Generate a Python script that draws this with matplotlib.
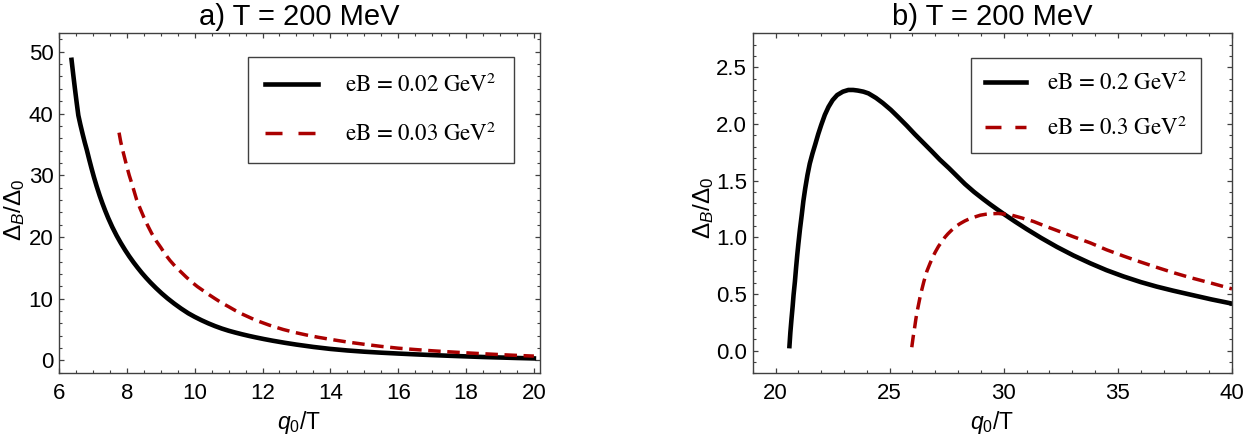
import numpy as np
import matplotlib
matplotlib.use('Agg')
import matplotlib.pyplot as plt
from matplotlib.ticker import MultipleLocator, FormatStrFormatter

# ---- data ----
# panel a): T = 200 MeV
a_x_02 = [6.37, 6.42, 6.47, 6.52, 6.57, 6.63, 6.7, 6.76, 6.82, 6.89, 6.96, 7.03, 7.11, 7.2,
          7.28, 7.36, 7.45, 7.57, 7.7, 7.82, 7.95, 8.07, 8.2, 8.32, 8.44, 8.57, 8.7, 8.86,
          9.03, 9.2, 9.4, 9.6, 9.81, 10.0, 10.2, 10.4, 10.6, 10.8, 11.0, 11.2, 11.4, 11.6,
          11.8, 12.05, 12.3, 12.65, 13.0, 13.5, 14.0, 14.5, 15.0, 15.5, 16.0, 16.5, 17.0,
          17.5, 18.0, 18.5, 19.0, 19.5, 20.0]
a_y_02 = [48.7, 46.3, 44.0, 41.8, 39.7, 38.2, 36.6, 35.3, 34.1, 32.56, 31.09, 29.69, 28.21, 26.68,
          25.44, 24.28, 23.07, 21.61, 20.2, 19.03, 17.86, 16.86, 15.86, 15.0, 14.18, 13.36, 12.59, 11.71,
          10.84, 10.04, 9.18, 8.39, 7.63, 7.05, 6.5, 6.0, 5.55, 5.15, 4.8, 4.5, 4.22, 3.96,
          3.72, 3.44, 3.18, 2.85, 2.55, 2.17, 1.85, 1.6, 1.4, 1.24, 1.1, 0.97, 0.85,
          0.74, 0.64, 0.54, 0.46, 0.38, 0.31]
a_x_03 = [7.77, 7.82, 7.88, 7.94, 8.0, 8.07, 8.15, 8.22, 8.29, 8.4, 8.5, 8.61, 8.73, 8.86,
          9.0, 9.13, 9.27, 9.43, 9.6, 9.75, 9.91, 10.08, 10.25, 10.42, 10.6, 10.8, 11.0,
          11.19, 11.38, 11.6, 11.8, 12.0, 12.2, 12.4, 12.61, 12.95, 13.3, 13.65, 14.0, 14.5,
          15.0, 15.5, 16.0, 16.5, 17.0, 17.5, 18.0, 18.5, 19.0, 19.5, 20.0]
a_y_03 = [36.9, 35.4, 34.0, 32.7, 31.4, 30.0, 28.6, 27.3, 26.0, 24.5, 23.2, 21.9, 20.6, 19.4,
          18.3, 17.2, 16.2, 15.2, 14.3, 13.5, 12.7, 11.95, 11.3, 10.65, 10.0, 9.3, 8.7,
          8.1, 7.55, 7.0, 6.5, 6.1, 5.7, 5.35, 5.0, 4.52, 4.1, 3.73, 3.4, 2.97,
          2.6, 2.26, 1.97, 1.75, 1.55, 1.38, 1.22, 1.07, 0.93, 0.8, 0.69]

# panel b): T = 200 MeV
b_x_2 = [20.61, 20.65, 20.7, 20.75, 20.79, 20.85, 20.9, 20.95, 21.0, 21.07, 21.15, 21.22,
         21.3, 21.4, 21.5, 21.62, 21.74, 21.87, 22.0, 22.16, 22.32, 22.5, 22.7, 22.95, 23.19,
         23.4, 23.6, 23.85, 24.07, 24.4, 24.7, 25.05, 25.38, 25.75, 26.1, 26.47, 26.84, 27.2,
         27.6, 27.95, 28.3, 28.7, 29.1, 29.41, 29.75, 30.05, 30.5, 31.0, 31.65, 32.33, 33.05,
         33.8, 34.5, 35.24, 36.0, 36.7, 37.4, 38.16, 39.1, 40.0]
b_y_2 = [0.04, 0.16, 0.28, 0.39, 0.49, 0.61, 0.73, 0.84, 0.94, 1.07, 1.2, 1.32,
         1.43, 1.55, 1.65, 1.74, 1.82, 1.91, 1.99, 2.08, 2.15, 2.21, 2.255, 2.285, 2.30,
         2.30, 2.295, 2.285, 2.27, 2.23, 2.185, 2.125, 2.06, 1.985, 1.91, 1.835, 1.76, 1.685,
         1.61, 1.54, 1.47, 1.40, 1.337, 1.29, 1.241, 1.199, 1.138, 1.073, 0.993, 0.915, 0.84,
         0.77, 0.71, 0.655, 0.605, 0.565, 0.53, 0.495, 0.452, 0.415]
b_x_3 = [25.97, 26.03, 26.1, 26.15, 26.2, 26.27, 26.33, 26.4, 26.5, 26.63, 26.77, 26.9, 27.0,
         27.14, 27.28, 27.42, 27.55, 27.7, 27.86, 28.08, 28.3, 28.52, 28.74, 28.97, 29.2,
         29.48, 29.76, 30.03, 30.3, 30.8, 31.3, 31.8, 32.33, 33.05, 33.8, 34.5, 35.24, 35.95,
         36.7, 37.4, 38.16, 39.1, 40.0]
b_y_3 = [0.03, 0.12, 0.21, 0.28, 0.34, 0.41, 0.47, 0.53, 0.61, 0.7, 0.77, 0.83, 0.87,
         0.92, 0.96, 1.0, 1.03, 1.06, 1.09, 1.12, 1.145, 1.165, 1.18, 1.195, 1.203,
         1.208, 1.21, 1.205, 1.198, 1.17, 1.14, 1.1, 1.06, 1.005, 0.95, 0.89, 0.835, 0.785,
         0.735, 0.69, 0.645, 0.595, 0.545]

titles = ['a) T = 200 MeV', 'b) T = 200 MeV']
labels_a = ['eB = 0.02 GeV$^2$', 'eB = 0.03 GeV$^2$']
labels_b = ['eB = 0.2 GeV$^2$', 'eB = 0.3 GeV$^2$']

plt.rcParams['font.family'] = 'Liberation Sans'
plt.rcParams['mathtext.fontset'] = 'custom'
plt.rcParams['mathtext.rm'] = 'Liberation Sans'
plt.rcParams['mathtext.it'] = 'Liberation Sans:italic'
plt.rcParams['mathtext.bf'] = 'Liberation Sans:bold'

W, H = 1256, 445
red = '#aa0000'
frame = '0.25'


def style_axes(ax, title):
    for s in ax.spines.values():
        s.set_color(frame)
        s.set_linewidth(1.0)
    ax.tick_params(which='both', direction='in', top=True, right=True, color=frame,
                   labelsize=16, labelcolor='black')
    ax.tick_params(which='major', length=3.5, width=0.9)
    ax.tick_params(which='minor', length=2.0, width=0.8)
    ax.tick_params(axis='x', pad=7)
    ax.tick_params(axis='y', pad=4)
    ax.set_title(title, fontsize=21, pad=6)
    ax.set_xlabel('$q_0$/T', fontsize=16.5)
    ax.set_ylabel(r'$\Delta_B/\Delta_0$', fontsize=17.5)


def add_legend(ax, anchor, hl, htp, spacing, bpad, handle_dash):
    leg = ax.legend(loc='upper right', bbox_to_anchor=anchor, borderaxespad=0,
                    prop={'family': 'STIXGeneral', 'size': 16.5}, handlelength=hl,
                    handletextpad=htp, labelspacing=spacing, borderpad=bpad,
                    fancybox=False, edgecolor=frame, framealpha=1)
    leg.get_frame().set_linewidth(1.0)
    for t in leg.get_texts():
        t.set_math_fontfamily('stix')
    # the legend sample shows two long dashes
    leg.get_lines()[1].set_dashes(handle_dash)
    return leg


fig = plt.figure(figsize=(W / 100, H / 100), dpi=100)
ax1 = fig.add_axes([59 / W, 1 - 373.3 / H, (540 - 59) / W, 340 / H])
ax2 = fig.add_axes([752.7 / W, 1 - 373.3 / H, (1232 - 752.7) / W, 340 / H])

# panel a
ax1.plot(a_x_02, a_y_02, color='black', lw=3.3, label=labels_a[0])
ax1.plot(a_x_03, a_y_03, color=red, lw=2.5, dashes=(3.6, 1.9), label=labels_a[1])
ax1.set_xlim(6, 20.18)
ax1.set_ylim(-2.1, 53)
ax1.xaxis.set_major_locator(MultipleLocator(2))
ax1.xaxis.set_minor_locator(MultipleLocator(0.5))
ax1.yaxis.set_major_locator(MultipleLocator(10))
ax1.yaxis.set_minor_locator(MultipleLocator(2))
style_axes(ax1, titles[0])
ax1.xaxis.set_label_coords(0.5, -0.105)
ax1.yaxis.set_label_coords(-0.067, 0.48)
add_legend(ax1, (0.946, 0.931), 2.3, 1.2, 1.1, 0.75, (4.9, 4.6))

# panel b
ax2.plot(b_x_2, b_y_2, color='black', lw=3.3, label=labels_b[0])
ax2.plot(b_x_3, b_y_3, color=red, lw=2.5, dashes=(3.6, 1.9), label=labels_b[1])
ax2.set_xlim(19, 40)
ax2.set_ylim(-0.2, 2.8)
ax2.xaxis.set_major_locator(MultipleLocator(5))
ax2.xaxis.set_minor_locator(MultipleLocator(1))
ax2.yaxis.set_major_locator(MultipleLocator(0.5))
ax2.yaxis.set_minor_locator(MultipleLocator(0.1))
ax2.yaxis.set_major_formatter(FormatStrFormatter('%.1f'))
style_axes(ax2, titles[1])
ax2.xaxis.set_label_coords(0.5, -0.105)
ax2.yaxis.set_label_coords(-0.077, 0.486)
add_legend(ax2, (0.935, 0.928), 1.8, 0.9, 0.95, 0.6, (4.6, 4.0))

fig.savefig('out.png', dpi=100)
